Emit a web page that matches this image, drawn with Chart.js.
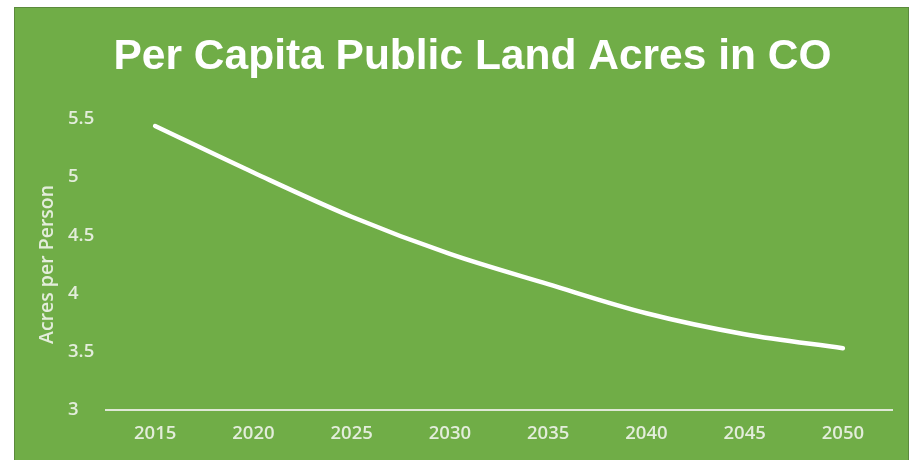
<!DOCTYPE html>
<html>
<head>
<meta charset="utf-8">
<script src="https://cdn.jsdelivr.net/npm/chart.js@4"></script>
<style>
  html, body { margin: 0; padding: 0; background: #fff; }
  #wrap { width: 912px; height: 460px; }
</style>
</head>
<body>
<div id="wrap"><canvas id="landChart"></canvas></div>
<script>
// Chart data
const years = ["2015", "2020", "2025", "2030", "2035", "2040", "2045", "2050"];
const acresPerPerson = [5.44, 5.04, 4.66, 4.34, 4.08, 3.83, 3.65, 3.53];
const yTicks = [3, 3.5, 4, 4.5, 5, 5.5];

const green = '#70ad47';
const labelColor = '#e3eddb';

// green panel behind the chart
const panelBg = {
  id: 'panelBg',
  beforeDraw(chart) {
    const c = chart.ctx;
    c.save();
    c.fillStyle = '#fff';
    c.fillRect(0, 0, chart.width, chart.height);
    c.fillStyle = green;
    c.fillRect(14, 7, 895, 460);
    c.strokeStyle = '#5b8a3c';
    c.lineWidth = 1;
    c.strokeRect(14.5, 7.5, 894, 460);
    c.restore();
  }
};

const ctx = document.getElementById('landChart').getContext('2d');
new Chart(ctx, {
  type: 'line',
  data: {
    labels: years,
    datasets: [{
      label: 'Acres per Person',
      data: acresPerPerson,
      borderColor: '#ffffff',
      borderWidth: 4.5,
      borderCapStyle: 'round',
      cubicInterpolationMode: 'monotone',
      pointRadius: 0,
      fill: false
    }]
  },
  options: {
    responsive: true,
    maintainAspectRatio: false,
    animation: false,
    layout: {
      padding: { left: 53, right: 20, top: 0, bottom: 2 }
    },
    scales: {
      x: {
        offset: true,
        grid: { display: false, drawTicks: false },
        border: { display: true, color: '#dfe8d6', width: 2 },
        ticks: {
          color: labelColor,
          padding: 13,
          font: { family: 'Open Sans', size: 18.5, weight: '600' }
        }
      },
      y: {
        min: 3,
        max: 5.5,
        weight: 0,
        afterBuildTicks(axis) {
          axis.ticks = yTicks.map(v => ({ value: v }));
        },
        afterFit(axis) { axis.width = 38; },
        grid: { display: false, drawTicks: false },
        border: { display: false },
        ticks: {
          color: labelColor,
          crossAlign: 'far',
          font: { family: 'Open Sans', size: 18.5, weight: '600' },
          callback: v => String(v)
        }
      },
      // holds only the axis title, outside the tick labels
      yTitle: {
        type: 'linear',
        position: 'left',
        weight: 1,
        afterFit(axis) { axis.width = 15; },
        grid: { display: false, drawTicks: false },
        border: { display: false },
        ticks: { display: false },
        title: {
          display: true,
          text: 'Acres per Person',
          color: labelColor,
          padding: { top: -17.7, bottom: 10 },
          font: { family: 'Open Sans', size: 19.5, weight: '600' }
        }
      }
    },
    plugins: {
      legend: { display: false },
      tooltip: { enabled: false },
      title: {
        display: true,
        text: 'Per Capita Public Land Acres in CO',
        color: '#ffffff',
        padding: { top: 32, bottom: 36 },
        font: { family: 'Liberation Sans', size: 42.5, weight: 'bold' }
      }
    }
  },
  plugins: [panelBg]
});
</script>
</body>
</html>
